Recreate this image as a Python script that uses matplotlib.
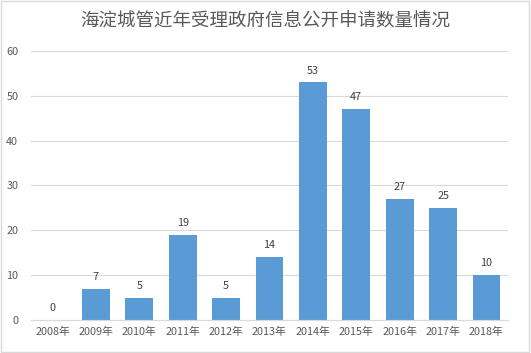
import matplotlib.pyplot as plt
from matplotlib.patches import Rectangle

plt.rcParams['font.family'] = ['Noto Sans CJK SC', 'DejaVu Sans']

years = ["2008年", "2009年", "2010年", "2011年", "2012年", "2013年",
         "2014年", "2015年", "2016年", "2017年", "2018年"]
counts = [0, 7, 5, 19, 5, 14, 53, 47, 27, 25, 10]
title = "海淀城管近年受理政府信息公开申请数量情况"

fig = plt.figure(figsize=(5.31, 3.53), dpi=100)
ax = fig.add_axes([0.058, 0.0935, 0.899, 0.7625])

x = range(len(years))
ax.bar(x, counts, width=0.64, color="#5B9BD5", zorder=2)
for xi, v in zip(x, counts):
    ax.text(xi, v + 1.5, str(v), ha="center", va="bottom", fontsize=7.8, color="#404040")

ax.set_xlim(-0.5, len(years) - 0.5)
ax.set_ylim(0, 60)
ax.set_yticks(range(0, 61, 10))
ax.set_xticks(list(x))
ax.set_xticklabels(years)
ax.tick_params(axis="both", length=0, labelsize=7.8, colors="#595959")
ax.tick_params(axis="y", pad=9)
ax.tick_params(axis="x", pad=5)
ax.grid(axis="y", color="#d9d9d9", lw=0.8, zorder=0)
for s in ["top", "right", "left"]:
    ax.spines[s].set_visible(False)
ax.spines["bottom"].set_color("#d9d9d9")

fig.text(0.5, 0.94, title, ha="center", va="center", fontsize=13.3, color="#595959")
fig.patches.append(Rectangle((0.002, 0.003), 0.995, 0.994, transform=fig.transFigure,
                             fill=False, edgecolor="#d9d9d9", lw=1))

fig.savefig("out.png", dpi=100)
